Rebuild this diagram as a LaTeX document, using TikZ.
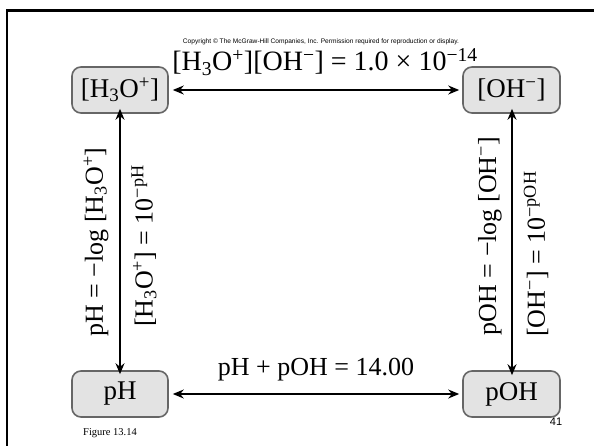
\documentclass[tikz,border=0pt]{standalone}
\usepackage{fontspec}
\setmainfont{Liberation Serif}
\newfontfamily\sansf{Liberation Sans}
\usetikzlibrary{arrows.meta}
\newcommand{\sbs}[1]{\textsubscript{#1}}
\newcommand{\sps}[1]{\textsuperscript{#1}}
\begin{document}
\begin{tikzpicture}[x=1pt,y=-1pt,
  box/.style={draw=black!60,fill=black!11,line width=1.6pt,rounded corners=9pt,minimum height=46pt,minimum width=96pt,inner sep=0pt,font=\fontsize{27}{29}\selectfont},
  conn/.style={{Stealth[length=11pt,width=9pt]}-{Stealth[length=11pt,width=9pt]},line width=1.4pt},
  lab/.style={font=\fontsize{26}{28}\selectfont,inner sep=0pt}]
\useasboundingbox (0,0) rectangle (594,446);
\fill[white] (0,0) rectangle (594,446);
\draw[line width=2.6pt] (7,460) -- (7,10.5) -- (610,10.5);
\node[font=\sansf\fontsize{6.6}{7}\selectfont] (copy) at (321,42) {Copyright \textcopyright\ The McGraw-Hill Companies, Inc. Permission required for reproduction or display.};
\node[box] (h3o) at (120,90) {[H\sbs{3}O\sps{+}]};
\node[box,minimum width=97pt] (oh) at (511.5,90) {[OH\sps{−}]};
\node[box] (ph) at (120,394) {pH};
\node[box,minimum width=97pt] (poh) at (511.5,394) {pOH};
\draw[conn] ([xshift=4pt]h3o.east) -- ([xshift=-3pt]oh.west);
\draw[conn] ([xshift=4pt]ph.east) -- ([xshift=-3pt]poh.west);
\draw[conn] ([yshift=5pt]h3o.south) -- ([yshift=-4pt]ph.north);
\draw[conn] ([xshift=0.5pt,yshift=5pt]oh.south) -- ([xshift=0.5pt,yshift=-5pt]poh.north);
\node[lab,anchor=base,font=\fontsize{28}{30}\selectfont] (kw) at (325,71) {[H\sbs{3}O\sps{+}][OH\sps{−}] = 1.0 × 10\sps{−14}};
\node[lab,anchor=base] (sum) at (316,375) {pH + pOH = 14.00};
\node[lab,rotate=90] (l1) at (96,242) {pH = −log [H\sbs{3}O\sps{+}]};
\node[lab,rotate=90] (l2) at (144,246) {[H\sbs{3}O\sps{+}] = 10\sps{−pH}};
\node[lab,rotate=90] (r1) at (490,236) {pOH = −log [OH\sps{−}]};
\node[lab,rotate=90] (r2) at (536,254) {[OH\sps{−}] = 10\sps{−pOH}};
\node[font=\fontsize{10.5}{11}\selectfont] (fig) at (110,433) {Figure 13.14};
\node[font=\sansf\fontsize{11}{12}\selectfont] (num) at (556,422) {41};
\end{tikzpicture}
\end{document}
